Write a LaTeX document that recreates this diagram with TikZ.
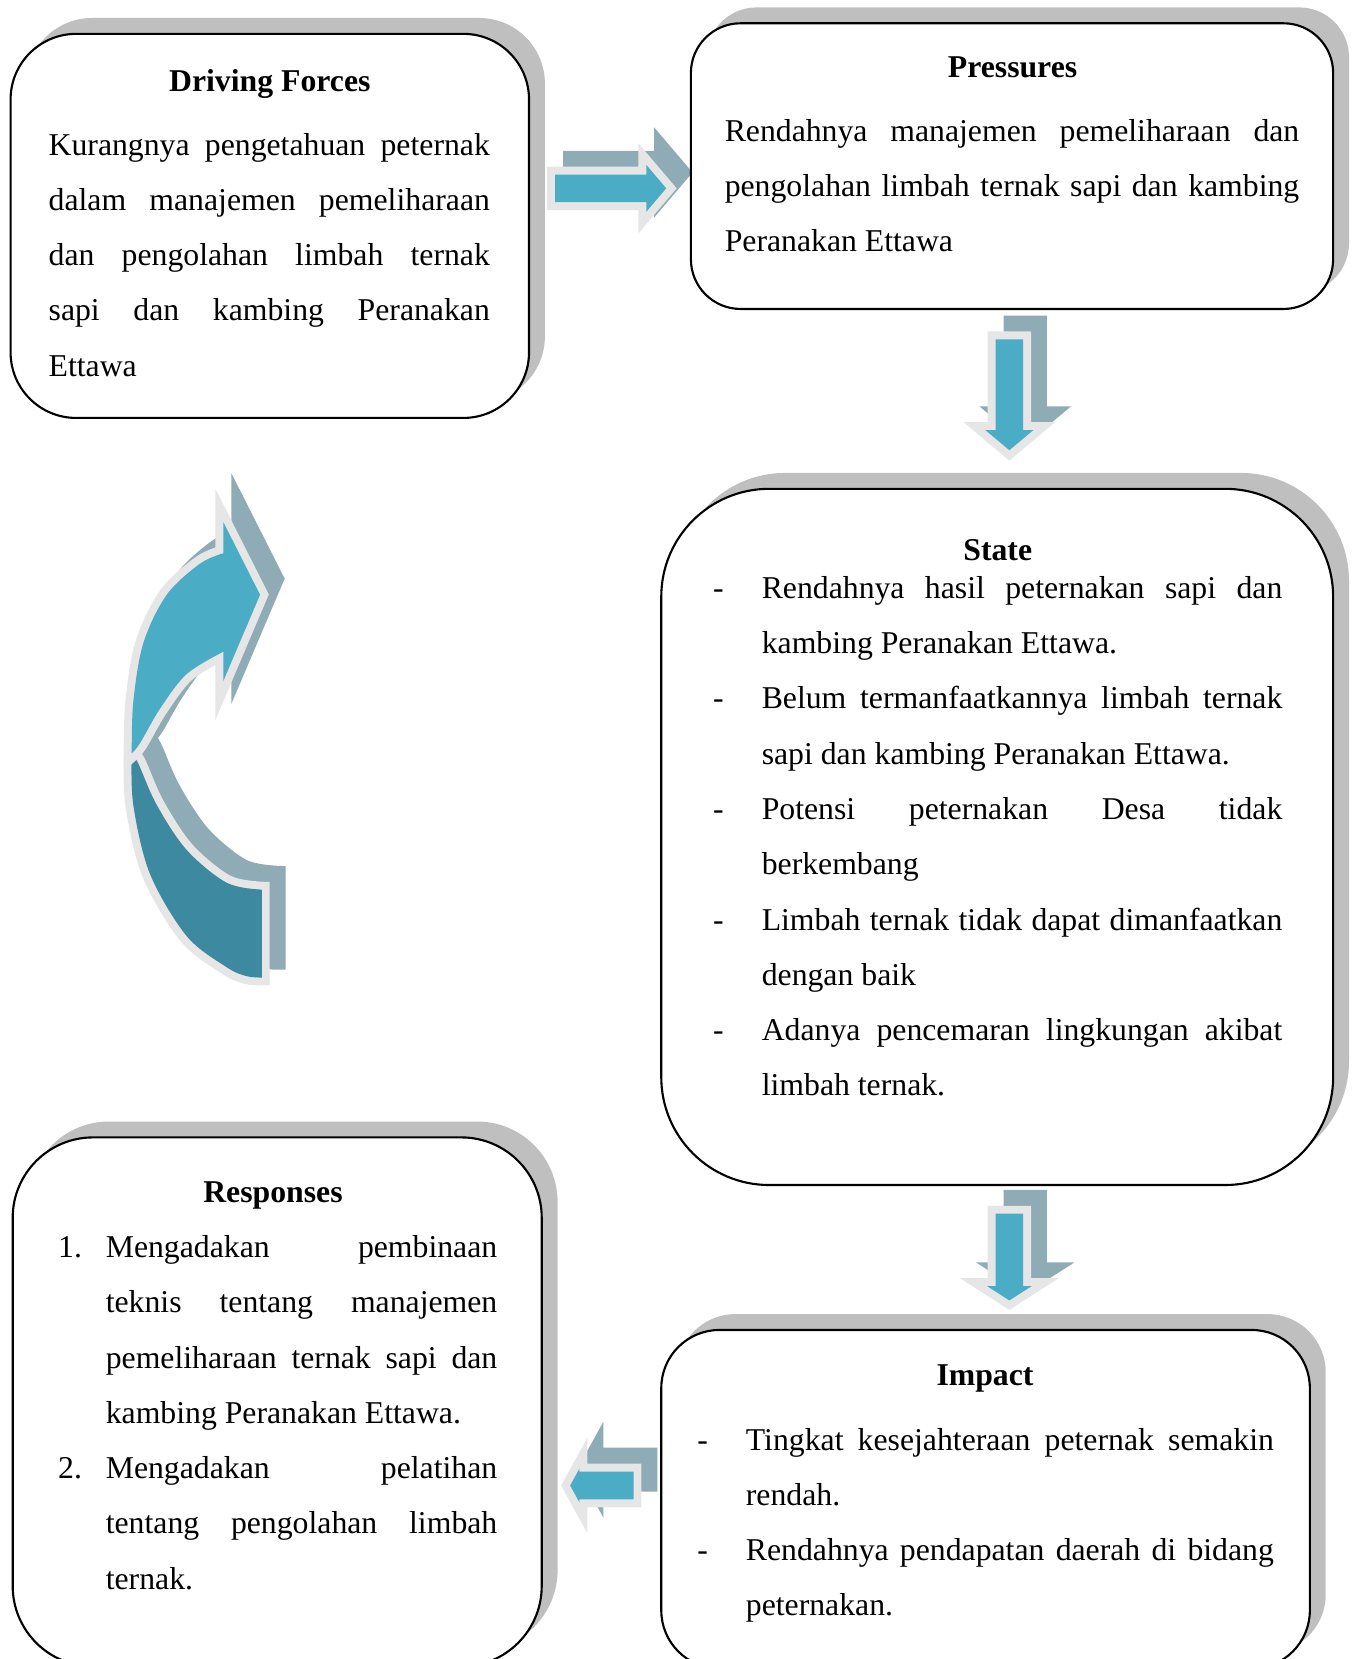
\documentclass[tikz,border=0pt]{standalone}
\usepackage{fontspec}
\setmainfont{Liberation Serif}
\usetikzlibrary{shadows}

\definecolor{arrowblue}{HTML}{4BACC6}
\definecolor{banddark}{HTML}{3D8AA0}
\definecolor{shadeteal}{HTML}{8FABB5}
\definecolor{rimgray}{HTML}{E6E6E6}
\definecolor{boxgray}{HTML}{BFBFBF}

% text blocks: every line is set explicitly, justified or flush left,
% with an optional hanging label (dash or number)
\newlength\hangw
\newlength\colw
\newcommand\tjust[2]{\noindent\makebox[\hangw][l]{#1}\makebox[\colw][s]{#2}\par}
\newcommand\tlast[2]{\noindent\makebox[\hangw][l]{#1}#2\par}
\newcommand\txtblock[3]{\vtop{\hsize=\dimexpr#1+#2\relax \hangw=#2\relax \colw=#1\relax
  \parindent=0pt \parskip=0pt \baselineskip=20.9pt \lineskiplimit=-100pt \lineskip=0pt #3}}

% straight block arrow: offset shadow, light rim, blue body
\newcommand\blockarrow[1]{%
  \fill[ashadow] #1;
  \fill[arrowblue, arim] #1;}

\begin{document}
\begin{tikzpicture}[x=0.4pt, y=-0.4pt,
  font=\fontsize{12pt}{20.9pt}\selectfont,
  every node/.style={inner sep=0pt, outer sep=0pt},
  panel/.style={rectangle, draw=black, line width=0.8pt, fill=white,
    drop shadow={opacity=1, fill=boxgray, shadow xshift=6pt, shadow yshift=6pt}},
  ttl/.style={anchor=base, font=\fontsize{12pt}{20.9pt}\selectfont\bfseries},
  body/.style={anchor=base west},
  ashadow/.style={fill=shadeteal, shift={(15,-15)},
    preaction={draw=shadeteal, line width=6pt, line join=miter}},
  arim/.style={preaction={draw=rimgray, line width=6pt, line join=miter}},
]
\useasboundingbox (0,0) rectangle (1282,1568);
\fill[white] (0,0) rectangle (1282,1568);

% ---- block arrows between the panels
\blockarrow{(524.7,165) -- (610.8,165) -- (610.8,155.8) -- (629.7,178) -- (610.8,200.2) -- (610.8,191) -- (524.7,191) -- cycle}
\blockarrow{(941,320.8) -- (967,320.8) -- (967,406.5) -- (976.7,406.5) -- (954,425.5) -- (931.3,406.5) -- (941,406.5) -- cycle}
\blockarrow{(941,1147.1) -- (967,1147.1) -- (967,1215.6) -- (975,1215.6) -- (954,1229.1) -- (933,1215.6) -- (941,1215.6) -- cycle}
\blockarrow{(598.8,1390.8) -- (598.8,1417.2) -- (547.7,1417.2) -- (547.7,1420) -- (538.9,1404) -- (547.7,1388) -- (547.7,1390.8) -- cycle}

% ---- curved arrow (back band dark, front band with head blue)
\fill[ashadow] plot[smooth, tension=0.55] coordinates {(124.5,712) (126,760.9) (141.8,826.1) (176.5,884.8) (214.3,914.2) (233,922.6) (247.4,923.9)}
  -- (247.4,840.8) -- plot[smooth, tension=0.55] coordinates {(247.4,840.8) (214.3,834.3) (176.5,803.4) (148.2,760.9) (130.8,721.8) (124.5,712)} -- cycle;
\fill[ashadow] plot[smooth, tension=0.55] coordinates {(124.5,712) (126,663.1) (135.5,607.7) (157.6,562.1) (189.1,532.7) (211.1,522.9)}
  -- (211.1,493.5) -- (245.8,562.1) -- (211.1,643.6) -- (211.1,615.9)
  -- plot[smooth, tension=0.55] coordinates {(211.1,615.9) (176.5,637) (151.3,669.7) (132.4,702.3) (124.5,712)} -- cycle;
\fill[banddark, arim] plot[smooth, tension=0.55] coordinates {(124.5,712) (126,760.9) (141.8,826.1) (176.5,884.8) (214.3,914.2) (233,922.6) (247.4,923.9)}
  -- (247.4,840.8) -- plot[smooth, tension=0.55] coordinates {(247.4,840.8) (214.3,834.3) (176.5,803.4) (148.2,760.9) (130.8,721.8) (124.5,712)} -- cycle;
\fill[arrowblue, arim] plot[smooth, tension=0.55] coordinates {(124.5,712) (126,663.1) (135.5,607.7) (157.6,562.1) (189.1,532.7) (211.1,522.9)}
  -- (211.1,493.5) -- (245.8,562.1) -- (211.1,643.6) -- (211.1,615.9)
  -- plot[smooth, tension=0.55] coordinates {(211.1,615.9) (176.5,637) (151.3,669.7) (132.4,702.3) (124.5,712)} -- cycle;

% ---- panels
\node[panel, rounded corners=24.8pt, minimum width=196pt, minimum height=145.2pt] (df) at (255,213.5) {};
\node[panel, rounded corners=18.8pt, minimum width=242.8pt, minimum height=108pt] (pr) at (956.5,157) {};
\node[panel, rounded corners=40.8pt, minimum width=254pt, minimum height=263.2pt] (st) at (942.5,791) {};
\node[panel, rounded corners=22pt, minimum width=245.2pt, minimum height=128pt] (im) at (931.5,1417) {};
\node[panel, rounded corners=30.4pt, minimum width=200pt, minimum height=200pt] (rs) at (262,1325) {};

% ---- Driving Forces
\node[ttl] (dfTitle) at (255,86.5) {Driving Forces};
\node[body] (dfText) at (46,146.5) {\txtblock{166.8pt}{0pt}{%
  \tjust{}{Kurangnya pengetahuan peternak}
  \tjust{}{dalam manajemen pemeliharaan}
  \tjust{}{dan pengolahan limbah ternak}
  \tjust{}{sapi dan kambing Peranakan}
  \tlast{}{Ettawa}}};

% ---- Pressures
\node[ttl] (prTitle) at (957,73.5) {Pressures};
\node[body] (prText) at (685,133.5) {\txtblock{217.2pt}{0pt}{%
  \tjust{}{Rendahnya manajemen pemeliharaan dan}
  \tjust{}{pengolahan limbah ternak sapi dan kambing}
  \tlast{}{Peranakan Ettawa}}};

% ---- State
\node[ttl] (stTitle) at (943,529.5) {State};
\node[body] (stText) at (674,565.5) {\txtblock{196.8pt}{18.4pt}{%
  \tjust{-}{Rendahnya hasil peternakan sapi dan}
  \tlast{}{kambing Peranakan Ettawa.}
  \tjust{-}{Belum termanfaatkannya limbah ternak}
  \tlast{}{sapi dan kambing Peranakan Ettawa.}
  \tjust{-}{Potensi peternakan Desa tidak}
  \tlast{}{berkembang}
  \tjust{-}{Limbah ternak tidak dapat dimanfaatkan}
  \tlast{}{dengan baik}
  \tjust{-}{Adanya pencemaran lingkungan akibat}
  \tlast{}{limbah ternak.}}};

% ---- Impact
\node[ttl] (imTitle) at (931,1309.5) {Impact};
\node[body] (imText) at (659,1370.5) {\txtblock{199.6pt}{18.4pt}{%
  \tjust{-}{Tingkat kesejahteraan peternak semakin}
  \tlast{}{rendah.}
  \tjust{-}{Rendahnya pendapatan daerah di bidang}
  \tlast{}{peternakan.}}};

% ---- Responses
\node[ttl] (rsTitle) at (258,1136.5) {Responses};
\node[body] (rsText) at (55,1188.5) {\txtblock{148pt}{18pt}{%
  \tjust{1.}{Mengadakan pembinaan}
  \tjust{}{teknis tentang manajemen}
  \tjust{}{pemeliharaan ternak sapi dan}
  \tlast{}{kambing Peranakan Ettawa.}
  \tjust{2.}{Mengadakan pelatihan}
  \tjust{}{tentang pengolahan limbah}
  \tlast{}{ternak.}}};
\end{tikzpicture}
\end{document}
